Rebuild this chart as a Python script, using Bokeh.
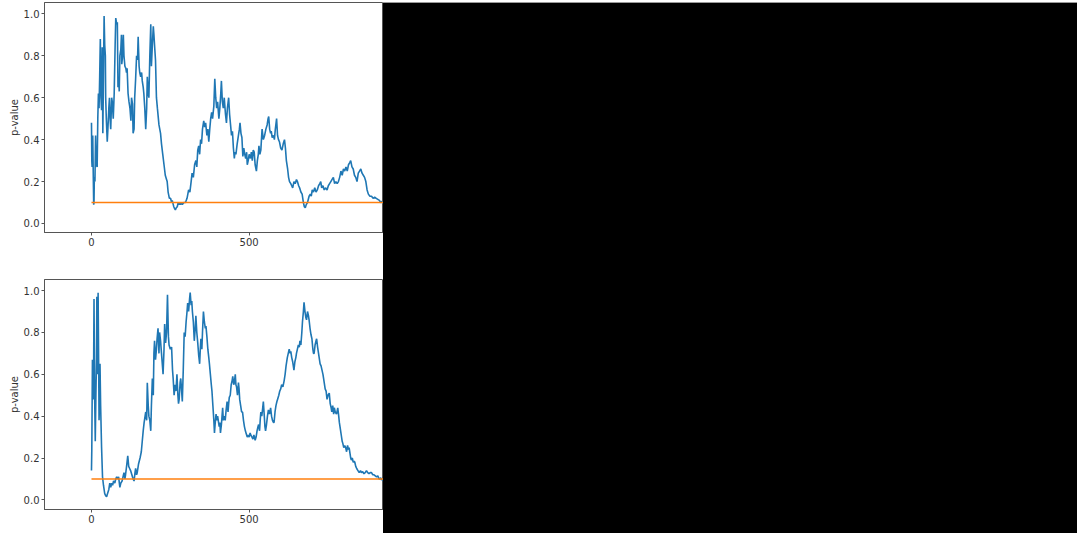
from bokeh.plotting import figure
from bokeh.layouts import row, column
from bokeh.models import Div, FixedTicker, PrintfTickFormatter, Range1d
from bokeh.embed import file_html
from bokeh.resources import INLINE

# ---- data ----
top_idx = [0, 1, 2, 4, 5, 7, 8, 9, 11, 13, 15, 18, 20, 22, 24, 26, 28, 30, 32, 34,
           36, 38, 40, 42, 44, 45, 47, 50, 52, 55, 57, 59, 61, 64, 66, 69, 72, 75, 77, 80,
           82, 84, 86, 88, 90, 93, 95, 96, 98, 101, 103, 106, 109, 111, 113, 116, 119, 122, 125, 127,
           130, 132, 135, 137, 140, 143, 146, 148, 151, 153, 156, 159, 161, 164, 166, 169, 172, 175, 177, 180,
           182, 185, 188, 190, 193, 196, 198, 200, 203, 206, 209, 214, 219, 222, 226, 230, 234, 238, 240, 243,
           247, 251, 254, 256, 261, 264, 266, 269, 272, 275, 277, 280, 282, 285, 288, 293, 298, 303, 308, 312,
           316, 319, 323, 327, 331, 334, 337, 340, 343, 346, 349, 352, 356, 359, 362, 366, 369, 372, 375, 378,
           381, 384, 388, 391, 394, 397, 400, 404, 407, 410, 412, 415, 418, 421, 425, 428, 431, 435, 438, 441,
           444, 447, 450, 453, 455, 458, 462, 466, 469, 471, 474, 477, 480, 483, 486, 489, 492, 494, 497, 500,
           504, 507, 510, 513, 516, 519, 523, 526, 529, 531, 534, 537, 541, 545, 549, 553, 557, 560, 562, 565,
           568, 570, 573, 577, 580, 583, 587, 590, 593, 596, 600, 604, 608, 612, 615, 618, 622, 625, 628, 632,
           635, 638, 642, 646, 650, 653, 657, 660, 664, 668, 672, 675, 678, 681, 685, 690, 694, 697, 700, 704,
           708, 712, 716, 720, 724, 727, 730, 734, 738, 742, 747, 751, 755, 759, 763, 767, 771, 775, 779, 783,
           787, 791, 795, 799, 803, 807, 811, 815, 819, 822, 826, 830, 834, 838, 842, 846, 850, 854, 858, 862,
           866, 870, 874, 878, 883, 888, 893, 898, 903, 908, 913, 917, 921, 925, 929, 933]
top_p = [0.48, 0.30, 0.27, 0.42, 0.30, 0.09, 0.10, 0.22, 0.20, 0.42, 0.28, 0.27, 0.50, 0.62, 0.55, 0.70, 0.88, 0.60, 0.54, 0.84,
         0.43, 0.70, 0.99, 0.85, 0.80, 0.60, 0.50, 0.39, 0.45, 0.55, 0.60, 0.50, 0.45, 0.60, 0.58, 0.50, 0.62, 0.85, 0.98, 0.95,
         0.96, 0.65, 0.70, 0.63, 0.80, 0.83, 0.90, 0.76, 0.79, 0.90, 0.80, 0.75, 0.74, 0.72, 0.74, 0.62, 0.58, 0.55, 0.49, 0.60,
         0.57, 0.43, 0.45, 0.60, 0.69, 0.80, 0.78, 0.89, 0.75, 0.72, 0.70, 0.72, 0.68, 0.65, 0.62, 0.55, 0.45, 0.55, 0.70, 0.62,
         0.60, 0.80, 0.95, 0.75, 0.85, 0.94, 0.90, 0.85, 0.78, 0.60, 0.55, 0.47, 0.43, 0.38, 0.33, 0.28, 0.23, 0.21, 0.20, 0.15,
         0.12, 0.12, 0.10, 0.11, 0.08, 0.07, 0.065, 0.075, 0.08, 0.10, 0.09, 0.10, 0.09, 0.10, 0.09, 0.10, 0.10, 0.12, 0.16, 0.15,
         0.20, 0.24, 0.22, 0.28, 0.30, 0.27, 0.35, 0.37, 0.33, 0.40, 0.38, 0.45, 0.49, 0.46, 0.48, 0.42, 0.45, 0.39, 0.45, 0.50,
         0.53, 0.50, 0.56, 0.69, 0.60, 0.55, 0.58, 0.50, 0.55, 0.62, 0.68, 0.58, 0.55, 0.60, 0.52, 0.48, 0.55, 0.60, 0.52, 0.47,
         0.42, 0.44, 0.36, 0.31, 0.34, 0.33, 0.38, 0.42, 0.45, 0.48, 0.43, 0.41, 0.32, 0.36, 0.33, 0.31, 0.34, 0.28, 0.30, 0.33,
         0.31, 0.34, 0.30, 0.35, 0.34, 0.28, 0.25, 0.30, 0.33, 0.37, 0.33, 0.35, 0.45, 0.40, 0.42, 0.45, 0.47, 0.50, 0.51, 0.45,
         0.43, 0.44, 0.41, 0.42, 0.40, 0.45, 0.50, 0.42, 0.40, 0.39, 0.36, 0.35, 0.38, 0.40, 0.36, 0.30, 0.26, 0.22, 0.20, 0.19,
         0.18, 0.17, 0.20, 0.19, 0.21, 0.20, 0.18, 0.17, 0.15, 0.14, 0.10, 0.08, 0.075, 0.09, 0.10, 0.13, 0.14, 0.13, 0.16, 0.15,
         0.17, 0.15, 0.16, 0.18, 0.19, 0.20, 0.17, 0.18, 0.16, 0.17, 0.16, 0.18, 0.19, 0.20, 0.21, 0.22, 0.19, 0.20, 0.19, 0.20,
         0.22, 0.25, 0.23, 0.26, 0.25, 0.27, 0.25, 0.28, 0.29, 0.30, 0.27, 0.26, 0.23, 0.22, 0.20, 0.24, 0.25, 0.26, 0.24, 0.23,
         0.22, 0.20, 0.16, 0.14, 0.13, 0.13, 0.12, 0.125, 0.12, 0.115, 0.11, 0.10, 0.105, 0.095, 0.11, 0.105]

bottom_idx = [0, 1, 3, 5, 7, 8, 10, 12, 14, 16, 17, 19, 21, 23, 24, 26, 27, 29, 32, 35,
              38, 42, 45, 48, 51, 55, 58, 61, 64, 67, 70, 74, 77, 80, 82, 86, 90, 93, 97, 100,
              103, 106, 108, 112, 115, 118, 121, 124, 128, 132, 135, 138, 140, 143, 145, 149, 154, 158, 161, 164,
              167, 170, 172, 175, 177, 180, 182, 185, 188, 190, 193, 196, 198, 200, 203, 206, 208, 211, 214, 216,
              219, 222, 224, 227, 230, 232, 235, 238, 241, 244, 246, 250, 254, 257, 259, 262, 265, 268, 271, 274,
              276, 278, 281, 283, 285, 288, 291, 294, 297, 300, 303, 305, 308, 311, 313, 316, 318, 320, 323, 326,
              329, 331, 334, 337, 340, 343, 345, 347, 350, 352, 355, 358, 361, 363, 366, 369, 372, 374, 377, 380,
              382, 385, 388, 390, 392, 395, 398, 400, 402, 405, 407, 409, 412, 414, 416, 418, 421, 424, 427, 430,
              433, 435, 437, 440, 443, 446, 448, 451, 453, 456, 458, 460, 463, 466, 468, 470, 473, 476, 479, 482,
              485, 488, 490, 494, 497, 500, 503, 505, 509, 512, 515, 519, 522, 525, 528, 530, 533, 535, 537, 540,
              543, 545, 548, 550, 552, 555, 558, 561, 564, 566, 568, 571, 574, 577, 579, 582, 585, 588, 590, 594,
              597, 600, 603, 607, 611, 614, 617, 621, 624, 627, 630, 632, 635, 638, 642, 645, 648, 650, 653, 656,
              659, 661, 664, 667, 669, 672, 674, 677, 680, 682, 685, 688, 690, 693, 696, 699, 702, 704, 706, 709,
              712, 714, 717, 720, 722, 725, 728, 731, 734, 736, 738, 741, 744, 747, 750, 754, 757, 760, 762, 765,
              768, 770, 773, 777, 781, 784, 786, 789, 792, 795, 797, 800, 803, 806, 809, 812, 815, 817, 820, 822,
              824, 827, 830, 833, 835, 838, 841, 845, 849, 853, 856, 860, 864, 868, 872, 876, 880, 884, 888, 892,
              896, 900, 904, 908, 912, 914, 917, 920, 923, 926, 930, 934]
bottom_p = [0.14, 0.24, 0.67, 0.48, 0.68, 0.96, 0.50, 0.28, 0.50, 0.68, 0.97, 0.60, 0.99, 0.60, 0.38, 0.50, 0.65, 0.45, 0.25, 0.11,
            0.07, 0.03, 0.02, 0.015, 0.03, 0.05, 0.08, 0.06, 0.08, 0.07, 0.09, 0.08, 0.10, 0.11, 0.10, 0.11, 0.06, 0.08, 0.09, 0.11,
            0.13, 0.10, 0.12, 0.17, 0.21, 0.16, 0.15, 0.14, 0.12, 0.10, 0.09, 0.13, 0.15, 0.12, 0.13, 0.17, 0.20, 0.23, 0.28, 0.33,
            0.37, 0.40, 0.42, 0.38, 0.56, 0.45, 0.40, 0.38, 0.33, 0.45, 0.58, 0.50, 0.70, 0.76, 0.67, 0.72, 0.77, 0.82, 0.70, 0.80,
            0.76, 0.70, 0.66, 0.60, 0.72, 0.84, 0.75, 0.80, 0.98, 0.78, 0.74, 0.72, 0.73, 0.62, 0.58, 0.50, 0.55, 0.52, 0.60, 0.50,
            0.46, 0.48, 0.56, 0.58, 0.54, 0.47, 0.62, 0.80, 0.78, 0.85, 0.90, 0.94, 0.90, 0.96, 0.99, 0.93, 0.95, 0.90, 0.85, 0.76,
            0.82, 0.88, 0.80, 0.75, 0.69, 0.65, 0.72, 0.77, 0.72, 0.80, 0.90, 0.85, 0.82, 0.83, 0.78, 0.72, 0.68, 0.65, 0.60, 0.55,
            0.52, 0.45, 0.38, 0.32, 0.36, 0.41, 0.38, 0.40, 0.38, 0.35, 0.37, 0.32, 0.36, 0.40, 0.44, 0.38, 0.40, 0.38, 0.43, 0.47,
            0.42, 0.46, 0.49, 0.50, 0.55, 0.57, 0.59, 0.55, 0.56, 0.60, 0.55, 0.54, 0.50, 0.56, 0.53, 0.48, 0.45, 0.42, 0.42, 0.38,
            0.35, 0.33, 0.32, 0.30, 0.31, 0.30, 0.32, 0.31, 0.30, 0.29, 0.31, 0.285, 0.30, 0.33, 0.35, 0.36, 0.33, 0.38, 0.42, 0.40,
            0.44, 0.47, 0.40, 0.35, 0.33, 0.36, 0.40, 0.43, 0.41, 0.42, 0.44, 0.40, 0.38, 0.37, 0.37, 0.42, 0.45, 0.47, 0.48, 0.50,
            0.52, 0.53, 0.55, 0.54, 0.57, 0.60, 0.64, 0.68, 0.70, 0.72, 0.70, 0.71, 0.68, 0.66, 0.62, 0.66, 0.68, 0.70, 0.72, 0.74,
            0.73, 0.76, 0.74, 0.80, 0.85, 0.90, 0.944, 0.90, 0.87, 0.86, 0.90, 0.88, 0.86, 0.82, 0.79, 0.77, 0.72, 0.70, 0.70, 0.74,
            0.76, 0.77, 0.73, 0.70, 0.68, 0.65, 0.64, 0.62, 0.60, 0.58, 0.56, 0.53, 0.52, 0.48, 0.50, 0.51, 0.46, 0.44, 0.42, 0.45,
            0.41, 0.44, 0.42, 0.41, 0.44, 0.40, 0.37, 0.34, 0.31, 0.28, 0.27, 0.25, 0.26, 0.25, 0.23, 0.26, 0.24, 0.25, 0.22, 0.20,
            0.19, 0.20, 0.18, 0.185, 0.18, 0.16, 0.15, 0.14, 0.13, 0.14, 0.13, 0.135, 0.125, 0.13, 0.14, 0.13, 0.125, 0.13, 0.13, 0.12,
            0.12, 0.115, 0.11, 0.115, 0.10, 0.10, 0.105, 0.095, 0.10, 0.09, 0.10, 0.095]

threshold = 0.1
x_ticks = [0, 500, 1000]
y_ticks = [0.0, 0.2, 0.4, 0.6, 0.8, 1.0]
y_label = "p-value"

BLUE = "#1f77b4"
ORANGE = "#ff7f0e"
AXIS = "#555555"
FONT = "DejaVu Sans"


def make_fig(idx, p, height, top, bottom, yr):
    f = figure(width=383, height=height, output_backend="svg", toolbar_location=None,
               x_range=Range1d(-149, 926), y_range=Range1d(*yr),
               min_border_left=44, min_border_right=0,
               min_border_top=top, min_border_bottom=bottom)
    f.line(idx, p, line_color=BLUE, line_width=1.6)
    f.line([idx[0], idx[-1]], [threshold, threshold], line_color=ORANGE, line_width=1.5)
    f.xgrid.visible = False
    f.ygrid.visible = False
    f.outline_line_color = AXIS
    f.outline_line_width = 1
    f.background_fill_color = "white"
    f.border_fill_color = "white"
    f.xaxis.ticker = FixedTicker(ticks=x_ticks)
    f.yaxis.ticker = FixedTicker(ticks=y_ticks)
    f.yaxis.formatter = PrintfTickFormatter(format="%.1f")
    f.yaxis.axis_label = y_label
    for ax in (f.xaxis[0], f.yaxis[0]):
        ax.axis_line_color = AXIS
        ax.major_tick_line_color = AXIS
        ax.major_tick_out = 3
        ax.major_tick_in = 0
        ax.minor_tick_line_color = None
        ax.major_label_text_font = FONT
        ax.major_label_text_font_size = "10px"
        ax.major_label_text_color = "#333333"
        ax.major_label_standoff = 2
        ax.axis_label_text_font = FONT
        ax.axis_label_text_font_size = "10px"
        ax.axis_label_text_font_style = "normal"
        ax.axis_label_text_color = "#333333"
        ax.axis_label_standoff = 1
    return f


f1 = make_fig(top_idx, top_p, 262, 2, 30, (-0.043, 1.054))
f2 = make_fig(bottom_idx, bottom_p, 271, 17, 24, (-0.046, 1.053))

black = Div(text="", width=694, height=531, margin=(2, 0, 0, 0),
            styles={"background-color": "#000000", "border-top": "1px solid #9a9a9a",
                    "box-sizing": "border-box"})

layout = row(column(f1, f2, spacing=0), black, spacing=0)

open("out.html", "w").write(file_html(layout, INLINE))
